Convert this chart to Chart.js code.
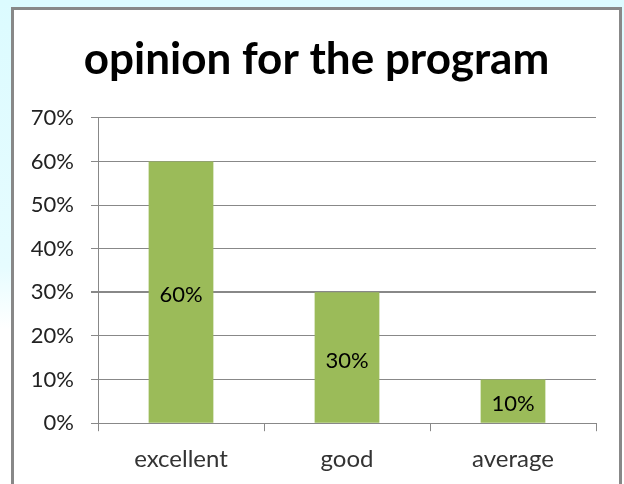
<!DOCTYPE html>
<html>
<head>
<meta charset="utf-8">
<title>opinion for the program</title>
<script src="https://cdn.jsdelivr.net/npm/chart.js@4/dist/chart.umd.min.js"></script>
<style>
  html, body {
    margin: 0;
    padding: 0;
    width: 624px;
    height: 484px;
    overflow: hidden;
    background: linear-gradient(to bottom, #dcfbff 0, #e6fcff 55%, #ffffff 68%);
  }
  #frame {
    position: absolute;
    left: 11px;
    top: 7px;
    width: 605px;
    height: 481px;
    border: 3px solid #888888;
    border-bottom: none;
    background: #ffffff;
  }
  #chart {
    display: block;
  }
</style>
</head>
<body>
<div id="frame">
  <canvas id="chart" width="605" height="478"></canvas>
</div>
<script>
// Survey answers and their share of respondents (%)
const categories = ['excellent', 'good', 'average'];
const shares = [60, 30, 10];
const yTicks = [0, 10, 20, 30, 40, 50, 60, 70];

const BAR_GREEN = '#9BBB59';
const GRID_GRAY = '#888888';
const FONT = 'Lato, "Open Sans", sans-serif';

/**
 * Writes each value in the middle of its bar
 */
const barValueLabels = {
  id: 'barValueLabels',
  afterDatasetsDraw(chart) {
    const ctx = chart.ctx;
    const meta = chart.getDatasetMeta(0);
    ctx.save();
    ctx.font = '22px ' + FONT;
    ctx.fillStyle = '#000000';
    ctx.textAlign = 'center';
    ctx.textBaseline = 'middle';
    meta.data.forEach((bar, i) => {
      // sits a touch below the exact centre, like the office-style labels
      const mid = (bar.y + bar.base) / 2 + 3;
      ctx.fillText(shares[i] + '%', bar.x, mid);
    });
    ctx.restore();
  }
};

new Chart(document.getElementById('chart'), {
  type: 'bar',
  data: {
    labels: categories,
    datasets: [{
      data: shares,
      backgroundColor: BAR_GREEN,
      borderWidth: 0,
      categoryPercentage: 1,
      barPercentage: 0.39
    }]
  },
  options: {
    responsive: false,
    animation: false,
    layout: {
      padding: 0
    },
    plugins: {
      legend: { display: false },
      tooltip: { enabled: false },
      title: {
        display: true,
        text: 'opinion for the program',
        color: '#000000',
        font: { family: FONT, size: 44, weight: 'bold' },
        padding: { top: 23, bottom: 32 }
      }
    },
    scales: {
      x: {
        grid: {
          offset: true,
          drawOnChartArea: false,
          drawTicks: true,
          tickLength: 8,
          color: GRID_GRAY
        },
        border: { display: false },
        ticks: {
          color: '#333333',
          font: { family: FONT, size: 24 },
          padding: 14
        }
      },
      y: {
        min: 0,
        max: 70,
        afterFit(scale) {
          scale.width = 84;
        },
        afterBuildTicks(scale) {
          scale.ticks = yTicks.map(v => ({ value: v }));
        },
        grid: {
          color: GRID_GRAY,
          lineWidth: c => (c.tick && c.tick.value === 30 ? 2 : 1),
          drawTicks: true,
          tickLength: 7
        },
        border: { display: true, color: GRID_GRAY },
        ticks: {
          color: '#222222',
          font: { family: FONT, size: 22 },
          padding: 17,
          callback: v => v + '%'
        }
      },
      // empty right-hand margin so the plot stops short of the frame
      yRight: {
        position: 'right',
        min: 0,
        max: 70,
        afterFit(scale) {
          scale.width = 23;
        },
        grid: { display: false },
        border: { display: false },
        ticks: { display: false }
      }
    }
  },
  plugins: [barValueLabels]
});
</script>
</body>
</html>
